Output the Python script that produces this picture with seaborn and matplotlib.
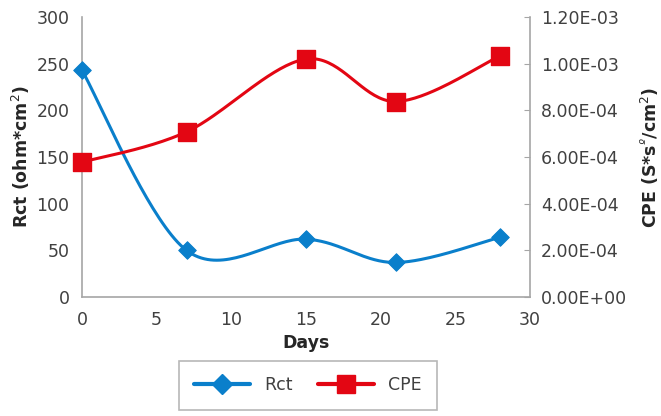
#!/usr/bin/env python3

import numpy as np
import pandas as pd
import matplotlib
matplotlib.use("Agg")
import matplotlib.pyplot as plt
from matplotlib.ticker import FuncFormatter, MultipleLocator
from matplotlib.lines import Line2D
import seaborn as sns

# values
days = [0, 7, 15, 21, 28]
rct = [243, 50, 62, 37, 64]
cpe = [5.78e-4, 7.08e-4, 1.02e-3, 8.38e-4, 1.034e-3]

BLUE = "#0A7FCB"
RED = "#E30613"
TEXT = "#404040"
AXIS = "#A6A6A6"
FS = 12.5


def smooth(x, y, n=40):
    # Excel-like smoothed line: Catmull-Rom pieces as cubic Beziers
    x = np.asarray(x, float)
    y = np.asarray(y, float)
    pts = np.column_stack([x, y])
    out = []
    for i in range(len(pts) - 1):
        p0 = pts[i - 1] if i > 0 else pts[i]
        p1 = pts[i]
        p2 = pts[i + 1]
        p3 = pts[i + 2] if i + 2 < len(pts) else pts[i + 1]
        c1 = p1 + (p2 - p0) / 6.0
        c2 = p2 - (p3 - p1) / 6.0
        t = np.linspace(0, 1, n)[:, None]
        seg = ((1 - t) ** 3) * p1 + 3 * ((1 - t) ** 2) * t * c1 + 3 * (1 - t) * t ** 2 * c2 + t ** 3 * p2
        out.append(seg if i == 0 else seg[1:])
    seg = np.vstack(out)
    return seg[:, 0], seg[:, 1]


sns.set_style("white")
plt.rcParams["font.family"] = ["DejaVu Sans"]
plt.rcParams["text.color"] = TEXT

fig, ax = plt.subplots(figsize=(6.61, 4.16), dpi=100)
fig.subplots_adjust(left=0.124, right=0.802, bottom=0.286, top=0.959)
ax2 = ax.twinx()

df = pd.DataFrame({"Days": days, "Rct": rct, "CPE": cpe})

sx, sy = smooth(days, rct)
sns.lineplot(x=sx, y=sy, ax=ax, color=BLUE, lw=2.2, sort=False)
sns.scatterplot(data=df, x="Days", y="Rct", ax=ax, marker="D", s=80,
                color=BLUE, edgecolor=BLUE, zorder=5, clip_on=False)

cx, cy = smooth(days, cpe)
sns.lineplot(x=cx, y=cy, ax=ax2, color=RED, lw=2.2, sort=False)
sns.scatterplot(data=df, x="Days", y="CPE", ax=ax2, marker="s", s=150,
                color=RED, edgecolor=RED, zorder=5, clip_on=False)

ax.set_xlim(0, 30)
ax.set_ylim(0, 300)
ax2.set_ylim(0, 1.2e-3)
ax.xaxis.set_major_locator(MultipleLocator(5))
ax.yaxis.set_major_locator(MultipleLocator(50))
ax2.yaxis.set_major_locator(MultipleLocator(2e-4))
ax2.yaxis.set_major_formatter(FuncFormatter(lambda v, p: f"{v:.2E}"))

for a in (ax, ax2):
    for s in a.spines.values():
        s.set_visible(False)
ax.spines["left"].set_visible(True)
ax.spines["bottom"].set_visible(True)
ax2.spines["right"].set_visible(True)
for s in (ax.spines["left"], ax.spines["bottom"], ax2.spines["right"]):
    s.set_color(AXIS)
    s.set_linewidth(1.2)

ax.tick_params(axis="x", length=0, labelsize=FS, labelcolor=TEXT, pad=10)
ax.tick_params(axis="y", length=0, labelsize=FS, labelcolor=TEXT, pad=9)
ax2.tick_params(axis="y", direction="in", length=4, color=AXIS,
                labelsize=FS, labelcolor=TEXT, pad=8)

ax.set_xlabel("Days", fontsize=FS, fontweight="bold", color="#262626", labelpad=4)
ax.set_ylabel("Rct (ohm*cm$^2$)", fontsize=FS, fontweight="bold", color="#262626", labelpad=3)
ax2.set_ylabel("CPE (S*s$^{º}$/cm$^2$)", fontsize=FS, fontweight="bold", color="#262626", labelpad=8)

handles = [
    Line2D([], [], color=BLUE, lw=3, marker="D", markersize=10),
    Line2D([], [], color=RED, lw=3, marker="s", markersize=13),
]
leg = fig.legend(handles, ["Rct", "CPE"], loc="center", bbox_to_anchor=(0.466, 0.074),
                 ncol=2, frameon=True, fancybox=False, fontsize=FS,
                 handlelength=3.2, columnspacing=1.5, borderpad=0.9,
                 edgecolor=AXIS, labelcolor=TEXT)
leg.get_frame().set_linewidth(1.2)

fig.savefig("out.png", dpi=100)
